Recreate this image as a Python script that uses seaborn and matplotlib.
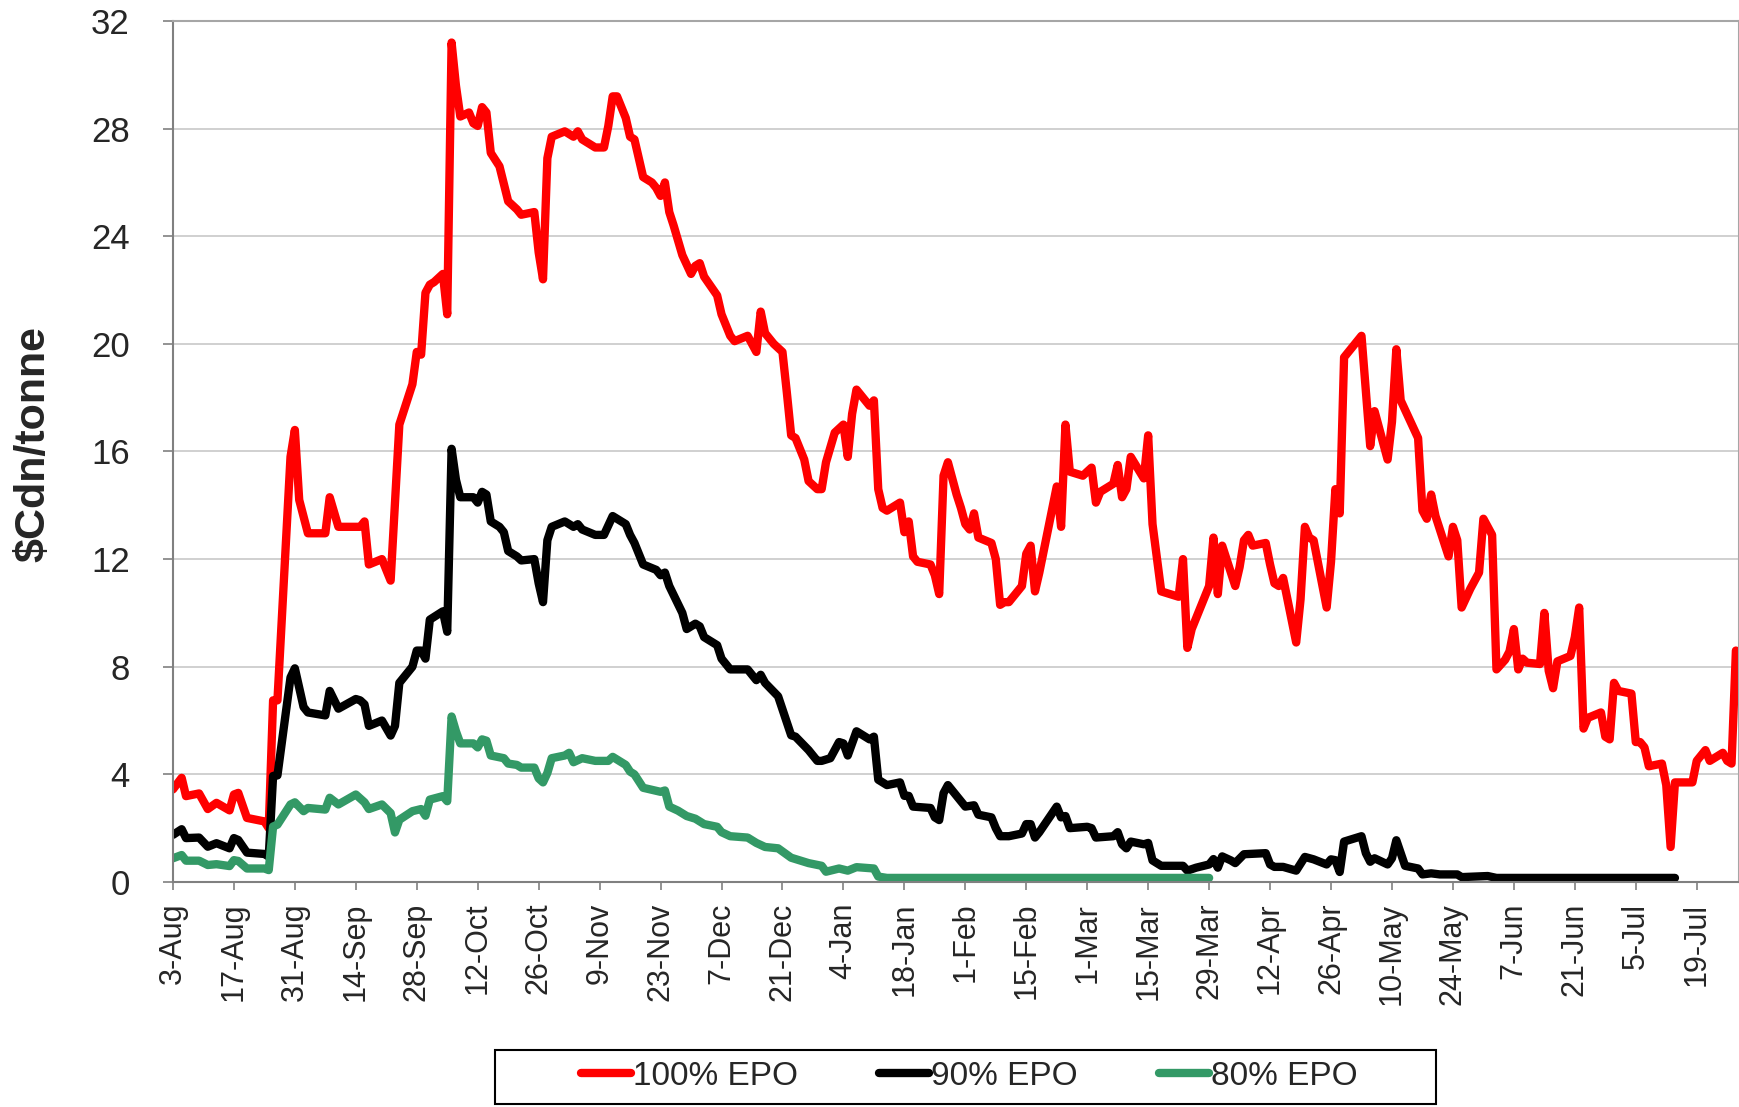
import numpy as np
import pandas as pd
import matplotlib
matplotlib.use("Agg")
import matplotlib.pyplot as plt
import seaborn as sns
from matplotlib.patches import Rectangle
from matplotlib.lines import Line2D

START = pd.Timestamp("2009-08-03")

# ---- data (day offsets from 3-Aug-2009, values in $Cdn/tonne) ----
red_days = [0, 2, 3, 6, 8, 10, 13, 14, 15, 17,
            21, 22, 23, 24, 27, 28, 29, 31, 35, 36,
            38, 41, 43, 44, 45, 48, 50, 52, 55, 56,
            57, 58, 59, 60, 62, 63, 64, 65, 66, 68,
            69, 70, 71, 72, 73, 75, 77, 79, 80, 83,
            84, 85, 86, 87, 90, 92, 93, 94, 97, 99,
            100, 101, 102, 104, 105, 106, 107, 108, 110, 111,
            112, 113, 114, 115, 117, 119, 120, 121, 122, 125,
            126, 128, 129, 132, 133, 134, 135, 136, 138, 140,
            141, 142, 143, 145, 146, 148, 149, 150, 152, 154,
            155, 156, 157, 160, 161, 162, 163, 164, 167, 168,
            169, 170, 171, 174, 175, 176, 177, 178, 180, 181,
            182, 183, 184, 185, 188, 189, 190, 191, 192, 195,
            196, 197, 198, 199, 203, 204, 205, 206, 209, 211,
            212, 213, 216, 217, 218, 219, 220, 223, 224, 225,
            227, 231, 232, 233, 234, 238, 239, 240, 241, 244,
            245, 246, 247, 248, 251, 252, 253, 254, 255, 258,
            259, 260, 261, 262, 265, 266, 267, 268, 269, 272,
            273, 275, 276, 279, 280, 281, 282, 286, 287, 288,
            289, 290, 293, 294, 295, 296, 298, 300, 301, 303,
            304, 306, 307, 308, 309, 310, 311, 314, 315, 316,
            317, 318, 321, 322, 323, 324, 325, 328, 329, 330,
            331, 332, 335, 336, 337, 338, 339, 342, 343, 344,
            345, 349, 350, 352, 353, 356, 357, 358, 359]
red_vals = [3.44, 3.87, 3.19, 3.29, 2.71, 2.94, 2.66, 3.25, 3.31, 2.38,
            2.25, 2.0, 6.75, 6.75, 15.8, 16.8, 14.2, 12.96, 12.96, 14.3,
            13.2, 13.2, 13.2, 13.4, 11.8, 12.0, 11.2, 17.0, 18.5, 19.7,
            19.6, 21.9, 22.2, 22.3, 22.6, 21.1, 31.2, 29.6, 28.45, 28.6,
            28.2, 28.1, 28.8, 28.6, 27.1, 26.6, 25.3, 25.0, 24.8, 24.9,
            23.4, 22.4, 26.9, 27.7, 27.9, 27.7, 27.9, 27.6, 27.3, 27.3,
            28.1, 29.2, 29.2, 28.4, 27.7, 27.6, 26.9, 26.2, 26.0, 25.8,
            25.5, 26.0, 24.9, 24.4, 23.3, 22.6, 22.9, 23.0, 22.5, 21.8,
            21.1, 20.3, 20.1, 20.3, 20.0, 19.7, 21.2, 20.4, 20.0, 19.7,
            18.2, 16.6, 16.5, 15.7, 14.9, 14.6, 14.6, 15.6, 16.7, 17.0,
            15.8, 17.4, 18.3, 17.7, 17.9, 14.6, 13.9, 13.8, 14.1, 13.0,
            13.4, 12.1, 11.9, 11.8, 11.4, 10.7, 15.1, 15.6, 14.4, 13.9,
            13.3, 13.1, 13.7, 12.8, 12.6, 12.0, 10.3, 10.4, 10.4, 11.0,
            12.2, 12.5, 10.8, 11.5, 14.7, 13.2, 17.0, 15.25, 15.1, 15.4,
            14.1, 14.5, 14.8, 15.5, 14.3, 14.6, 15.8, 15.0, 16.6, 13.3,
            10.8, 10.6, 12.0, 8.7, 9.4, 11.0, 12.8, 10.7, 12.5, 11.0,
            11.7, 12.7, 12.9, 12.5, 12.6, 11.8, 11.1, 11.0, 11.3, 8.9,
            10.5, 13.2, 12.8, 12.7, 10.2, 11.9, 14.6, 13.7, 19.5, 20.1,
            20.3, 16.2, 17.5, 15.7, 17.1, 19.8, 17.9, 16.5, 13.8, 13.5,
            14.4, 13.6, 12.1, 13.2, 12.7, 10.2, 10.9, 11.5, 13.5, 12.9,
            7.9, 8.26, 8.57, 9.4, 7.9, 8.3, 8.15, 8.1, 10.0, 7.85,
            7.2, 8.2, 8.4, 9.1, 10.2, 5.7, 6.1, 6.3, 5.4, 5.3,
            7.4, 7.1, 7.0, 5.2, 5.2, 5.0, 4.3, 4.4, 3.6, 1.3,
            3.7, 3.7, 4.5, 4.9, 4.5, 4.8, 4.5, 4.4, 8.6]

black_days = [0, 2, 3, 6, 8, 10, 13, 14, 15, 17,
              21, 22, 23, 24, 27, 28, 30, 31, 35, 36,
              38, 42, 43, 44, 45, 48, 50, 51, 52, 55,
              56, 57, 58, 59, 62, 63, 64, 65, 66, 69,
              70, 71, 72, 73, 75, 76, 77, 79, 80, 83,
              84, 85, 86, 87, 90, 92, 93, 94, 97, 99,
              101, 104, 105, 106, 108, 111, 112, 113, 114, 117,
              118, 120, 121, 122, 125, 126, 128, 132, 134, 135,
              136, 139, 142, 143, 146, 148, 149, 151, 153, 154,
              155, 157, 160, 161, 162, 164, 167, 168, 169, 170,
              174, 175, 176, 177, 178, 181, 182, 184, 185, 188,
              189, 190, 192, 195, 196, 197, 198, 199, 203, 204,
              205, 206, 210, 211, 212, 216, 217, 218, 219, 220,
              223, 224, 225, 227, 232, 233, 235, 238, 239, 240,
              241, 243, 244, 246, 251, 252, 253, 255, 258, 260,
              262, 265, 266, 267, 268, 269, 271, 273, 274, 275,
              276, 279, 280, 281, 283, 286, 287, 289, 291, 295,
              296, 302, 304, 345]
black_vals = [1.75, 1.96, 1.63, 1.65, 1.31, 1.44, 1.25, 1.63, 1.56, 1.09,
              1.04, 0.94, 3.94, 3.96, 7.6, 7.94, 6.5, 6.3, 6.19, 7.1,
              6.44, 6.8, 6.75, 6.6, 5.8, 6.0, 5.44, 5.8, 7.4, 8.0,
              8.6, 8.6, 8.3, 9.75, 10.06, 9.3, 16.1, 14.95, 14.3, 14.3,
              14.1, 14.5, 14.4, 13.4, 13.2, 13.0, 12.3, 12.1, 11.95, 12.0,
              11.1, 10.4, 12.7, 13.2, 13.4, 13.2, 13.3, 13.1, 12.9, 12.9,
              13.6, 13.3, 12.9, 12.6, 11.8, 11.6, 11.4, 11.5, 11.0, 10.0,
              9.4, 9.6, 9.5, 9.1, 8.8, 8.3, 7.9, 7.9, 7.5, 7.7,
              7.4, 6.9, 5.45, 5.4, 4.9, 4.5, 4.5, 4.6, 5.2, 5.15,
              4.7, 5.6, 5.3, 5.4, 3.8, 3.6, 3.7, 3.2, 3.2, 2.8,
              2.75, 2.4, 2.3, 3.3, 3.6, 3.0, 2.8, 2.85, 2.5, 2.4,
              2.0, 1.7, 1.7, 1.8, 2.15, 2.15, 1.65, 1.85, 2.8, 2.4,
              2.45, 2.0, 2.05, 2.0, 1.65, 1.7, 1.85, 1.4, 1.25, 1.5,
              1.4, 1.45, 0.8, 0.6, 0.6, 0.42, 0.53, 0.65, 0.85, 0.53,
              0.95, 0.8, 0.7, 1.03, 1.07, 0.65, 0.56, 0.56, 0.42, 0.93,
              0.84, 0.65, 0.84, 0.81, 0.37, 1.5, 1.6, 1.7, 1.07, 0.75,
              0.88, 0.65, 0.88, 1.55, 0.6, 0.5, 0.28, 0.32, 0.28, 0.28,
              0.18, 0.22, 0.15, 0.15]

green_days = [0, 2, 3, 6, 8, 10, 13, 14, 15, 17,
              21, 22, 23, 24, 27, 28, 30, 31, 35, 36,
              38, 42, 44, 45, 48, 50, 51, 52, 55, 57,
              58, 59, 62, 63, 64, 65, 66, 69, 70, 71,
              72, 73, 76, 77, 79, 80, 83, 84, 85, 86,
              87, 90, 91, 92, 94, 97, 100, 101, 104, 105,
              106, 108, 112, 113, 114, 116, 118, 120, 122, 125,
              126, 128, 132, 134, 136, 139, 142, 146, 149, 150,
              153, 155, 157, 161, 162, 164, 238]
green_vals = [0.88, 1.0, 0.79, 0.79, 0.63, 0.66, 0.59, 0.81, 0.78, 0.5,
              0.5, 0.44, 2.06, 2.13, 2.88, 2.96, 2.63, 2.75, 2.69, 3.13,
              2.88, 3.25, 2.96, 2.71, 2.88, 2.56, 1.84, 2.31, 2.63, 2.71,
              2.46, 3.06, 3.19, 3.0, 6.15, 5.6, 5.15, 5.15, 5.0, 5.3,
              5.25, 4.7, 4.6, 4.4, 4.35, 4.25, 4.25, 3.85, 3.7, 4.05,
              4.6, 4.7, 4.8, 4.45, 4.6, 4.5, 4.5, 4.65, 4.35, 4.1,
              4.0, 3.5, 3.35, 3.4, 2.8, 2.65, 2.45, 2.35, 2.15, 2.05,
              1.85, 1.7, 1.65, 1.45, 1.3, 1.25, 0.9, 0.7, 0.6, 0.38,
              0.5, 0.42, 0.55, 0.5, 0.2, 0.15, 0.15]

series_names = ["100% EPO", "90% EPO", "80% EPO"]
series_colors = ["#FF0000", "#000000", "#339966"]
y_ticks = [0, 4, 8, 12, 16, 20, 24, 28, 32]
y_label = r"\$Cdn/tonne"

# ---- build long table ----
frames = []
for name, d, v in zip(series_names,
                      [red_days, black_days, green_days],
                      [red_vals, black_vals, green_vals]):
    assert len(d) == len(v), (name, len(d), len(v))
    frames.append(pd.DataFrame({
        "date": START + pd.to_timedelta(d, unit="D"),
        "value": v,
        "series": name,
    }))
df = pd.concat(frames, ignore_index=True)

sns.set_style("white")
plt.rcParams["font.family"] = ["Liberation Sans", "DejaVu Sans"]

fig = plt.figure(figsize=(17.4, 11.07), dpi=100)
ax = fig.add_axes([0.0994, 0.2033, 0.9000, 0.7777])

sns.lineplot(data=df, x="date", y="value", hue="series",
             hue_order=series_names,
             palette=dict(zip(series_names, series_colors)),
             estimator=None, errorbar=None, linewidth=6.0,
             legend=False, ax=ax,
             solid_joinstyle="round", solid_capstyle="round")

# axes
ax.set_ylim(0, 32)
ax.set_yticks(y_ticks)
ax.set_yticklabels([str(t) for t in y_ticks])
xticks = pd.date_range(START, periods=26, freq="14D")
ax.set_xticks(xticks)
ax.set_xticklabels([f"{d.day}-{d.strftime('%b')}" for d in xticks], rotation=90)
ax.set_xlim(START, START + pd.Timedelta(days=359.7))
ax.set_xlabel("")
ax.set_ylabel("")

ax.yaxis.grid(True, color="#c8c8c8", linewidth=1.2)
ax.xaxis.grid(False)
ax.set_axisbelow(True)

ax.tick_params(axis="y", left=True, direction="out", length=7, width=1.2,
               color="#808080", labelsize=25, pad=24)
ax.tick_params(axis="x", bottom=True, direction="out", length=6, width=1.2,
               color="#808080", labelsize=22, pad=9)

for side, s in ax.spines.items():
    s.set_visible(True)
    s.set_linewidth(1.5)
    s.set_color("#808080" if side in ("left", "bottom") else "#a6a6a6")

fig.text(0.019, 0.599, y_label, rotation=90, fontsize=31, fontweight="bold",
         ha="center", va="center")

# legend with boxed frame
handles = [Line2D([0], [0], color=c, linewidth=6, solid_capstyle="round")
           for c in series_colors]
fig.legend(handles, series_names, loc="center", bbox_to_anchor=(0.557, 0.0275),
           ncol=3, frameon=False, fontsize=24, handlelength=1.5,
           handletextpad=0.05, columnspacing=2.45)
fig.patches.append(Rectangle((0.2845, 0.0027), 0.5408, 0.0488, fill=False,
                             edgecolor="black", linewidth=1.5,
                             transform=fig.transFigure, figure=fig))

fig.savefig("out.png", dpi=100)
